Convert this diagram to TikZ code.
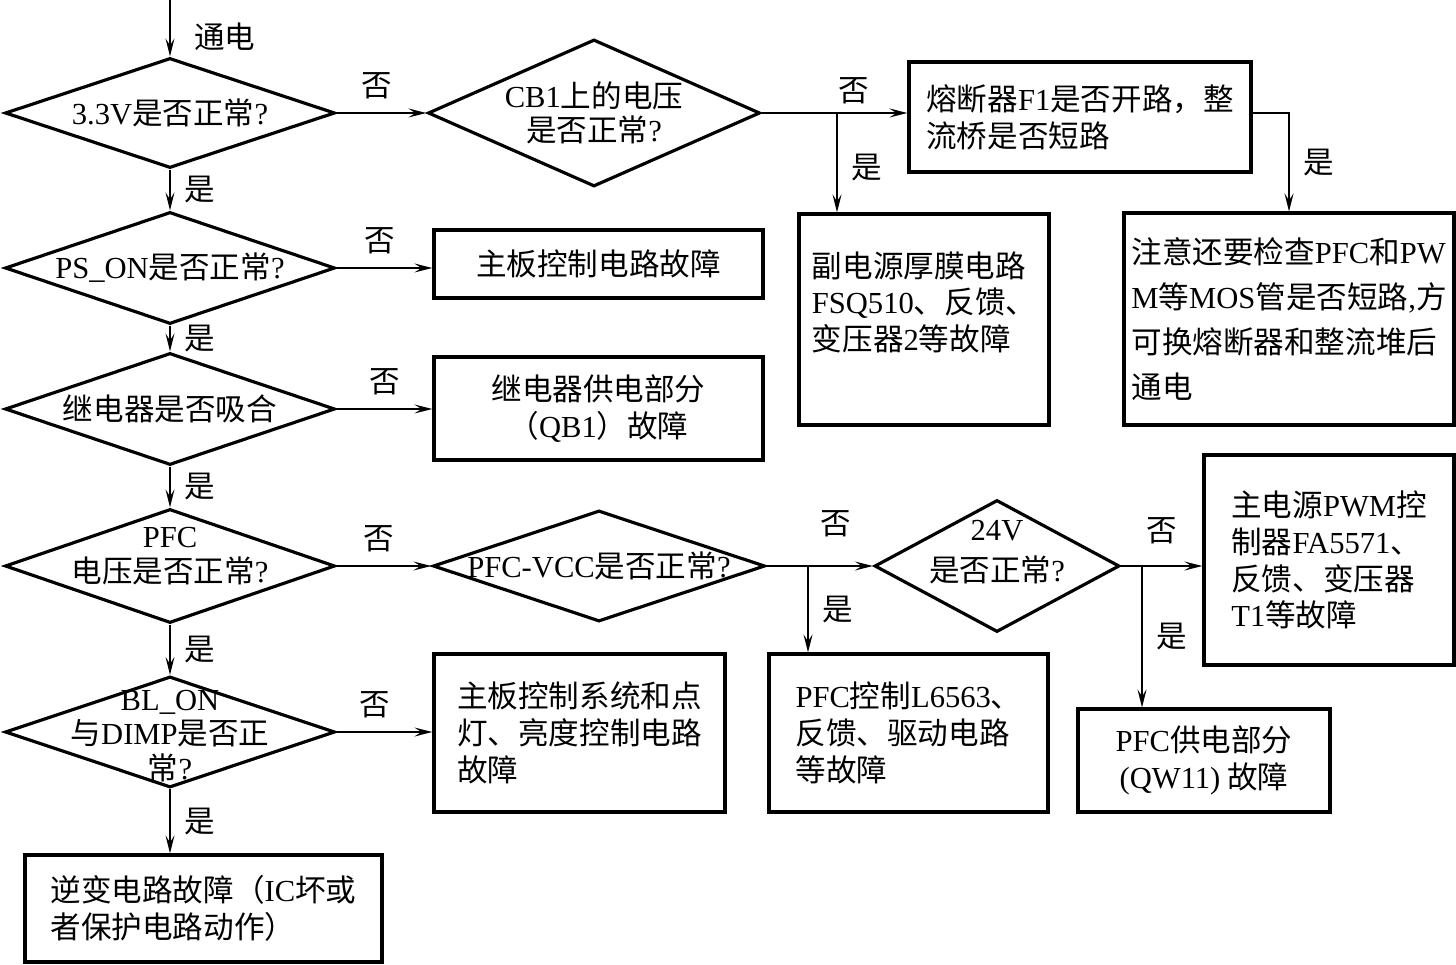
\documentclass[tikz,border=0pt]{standalone}
\usepackage{fontspec}
\setmainfont{Noto Sans CJK SC}
\newfontfamily\lat{Liberation Serif}
\newcommand{\en}[1]{{\lat #1}}
\usepackage{tikz}
\usetikzlibrary{arrows.meta, positioning, calc, shapes.geometric}

\begin{document}
\begin{tikzpicture}[>={Stealth[length=1.8mm, width=0.9mm, inset=0.7mm]},
    font=\fontsize{8.7}{10.5}\selectfont,
    dec/.style={diamond, draw, line width=0.9pt, inner sep=0pt, minimum width=3.3cm},
    box/.style={rectangle, draw, line width=0.9pt, inner sep=0pt},
    qt/.style={align=center, inner sep=0pt, font=\fontsize{8.7}{9.8}\selectfont},
    lab/.style={inner sep=1pt},
    flow/.style={->, line width=0.5pt}]
    \useasboundingbox (0,0) rectangle (14.56,-9.65);
    \coordinate (top) at (1.7,0);
    \node[dec, minimum height=1.10cm, label={[qt]center:{\en{3.3V}是否正常\en{?}}}] (d1) at (1.7,-1.13) {};
    \node[dec, minimum height=1.12cm, label={[qt]center:{\en{PS\_ON}是否正常\en{?}}}] (d2) at (1.7,-2.68) {};
    \node[dec, minimum height=1.12cm, label={[qt]center:{继电器是否吸合}}] (d3) at (1.7,-4.09) {};
    \node[dec, minimum height=1.14cm, label={[qt, yshift=0.1cm]center:{\en{PFC}\\电压是否正常\en{?}}}] (d4) at (1.7,-5.66) {};
    \node[dec, minimum height=1.11cm, label={[qt, yshift=-0.04cm]center:{\en{BL\_ON}\\与\en{DIMP}是否正\\常\en{?}}}] (d5) at (1.7,-7.32) {};
    \node[dec, minimum width=3.32cm, minimum height=1.47cm, label={[qt]center:{\en{CB1}上的电压\\是否正常\en{?}}}] (cb1) at (5.94,-1.13) {};
    \node[dec, minimum width=3.32cm, minimum height=1.11cm, label={[qt]center:{\en{PFC-VCC}是否正常\en{?}}}] (vcc) at (5.99,-5.66) {};
    \node[dec, minimum width=2.45cm, minimum height=1.32cm, label={[qt, yshift=0.14cm]center:{\en{24V}\\[2pt]是否正常\en{?}}}] (v24) at (9.97,-5.66) {};

    \node[box, minimum width=3.42cm, minimum height=1.10cm, align=left] (fuse) at (10.80,-1.17) {熔断器\en{F1}是否开路，整\\流桥是否短路};
    \node[box, minimum width=2.50cm, minimum height=2.11cm, align=left] (aux) at (9.24,-3.195) {副电源厚膜电路\\\en{FSQ510}、反馈、\\变压器\en{2}等故障\\\mbox{}};
    \node[box, minimum width=3.30cm, minimum height=2.12cm, align=left, font=\fontsize{8.7}{12.8}\selectfont] (note) at (12.89,-3.19) {注意还要检查\en{PFC}和\en{PW}\\\en{M}等\en{MOS}管是否短路\en{,}方\\可换熔断器和整流堆后\\通电};
    \node[box, minimum width=3.29cm, minimum height=0.68cm] (mb1) at (5.985,-2.64) {主板控制电路故障};
    \node[box, minimum width=3.29cm, minimum height=1.03cm, align=center] (relay) at (5.985,-4.085) {继电器供电部分\\（\en{QB1}）故障};
    \node[box, minimum width=2.50cm, minimum height=2.10cm, align=left] (pwm) at (13.29,-5.60) {主电源\en{PWM}控\\制器\en{FA5571}、\\反馈、变压器\\\en{T1}等故障};
    \node[box, minimum width=2.79cm, minimum height=1.58cm, align=left] (l6563) at (9.085,-7.33) {\en{PFC}控制\en{L6563}、\\反馈、驱动电路\\等故障};
    \node[box, minimum width=2.52cm, minimum height=1.03cm, align=center] (qw11) at (12.04,-7.605) {\en{PFC}供电部分\\\en{(QW11)} 故障};
    \node[box, minimum width=2.91cm, minimum height=1.58cm, align=left] (mb2) at (5.795,-7.33) {主板控制系统和点\\灯、亮度控制电路\\故障};
    \node[box, minimum width=3.57cm, minimum height=1.07cm, align=left] (inv) at (2.035,-9.085) {逆变电路故障（\en{IC}坏或\\者保护电路动作）};

    \coordinate (j1) at (8.37,-1.13);
    \coordinate (j2) at (8.08,-5.66);
    \coordinate (j3) at (11.42,-5.66);

    \draw[flow] (top) -- node[lab, pos=0.65, right=0.2cm] {通电} (d1);
    \draw[flow] (d1) -- node[lab, right=0.1cm] {是} (d2);
    \draw[flow] (d1) -- node[lab, pos=0.45, above=0.1cm] {否} (cb1);
    \draw[flow] (cb1) -- node[lab, pos=0.63, above=0.05cm] {否} (cb1.east -| fuse.west);
    \draw[flow] (j1) -- node[lab, pos=0.55, right=0.1cm] {是} (j1 |- aux.north);
    \draw[flow] (cb1.east -| fuse.east) -| node[lab, pos=0.75, right=0.1cm] {是} (note.north);
    \draw[flow] (d2) -- node[lab, pos=0.45, above=0.1cm] {否} (d2 -| mb1.west);
    \draw[flow] (d2) -- node[lab, right=0.1cm] {是} (d3);
    \draw[flow] (d3) -- node[lab, pos=0.5, above=0.1cm] {否} (d3 -| relay.west);
    \draw[flow] (d3) -- node[lab, right=0.1cm] {是} (d4);
    \draw[flow] (d4) -- node[lab, pos=0.45, above=0.1cm] {否} (vcc);
    \draw[flow] (vcc) -- node[lab, pos=0.65, above=0.25cm] {否} (v24);
    \draw[flow] (j2) -- node[lab, right=0.1cm] {是} (j2 |- l6563.north);
    \draw[flow] (v24) -- node[lab, above=0.18cm] {否} (v24 -| pwm.west);
    \draw[flow] (j3) -- node[lab, right=0.1cm] {是} (j3 |- qw11.north);
    \draw[flow] (d4) -- node[lab, right=0.1cm] {是} (d5);
    \draw[flow] (d5) -- node[lab, pos=0.4, above=0.1cm] {否} (d5 -| mb2.west);
    \draw[flow] (d5) -- node[lab, right=0.1cm] {是} (d5 |- inv.north);
\end{tikzpicture}
\end{document}
